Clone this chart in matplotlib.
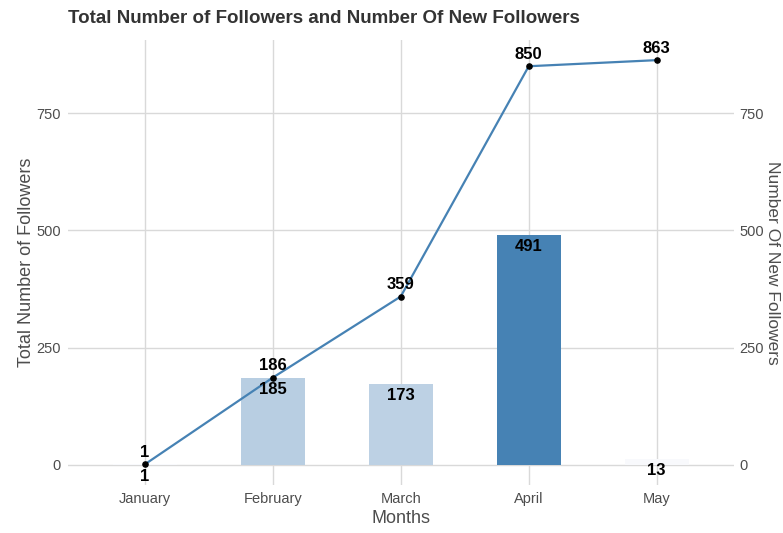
import matplotlib.pyplot as plt
import matplotlib.colors as mcolors
import numpy as np

plt.rcParams['font.family'] = ['Liberation Sans', 'DejaVu Sans']

# --- data ---
months = ["January", "February", "March", "April", "May"]
total_followers = [1, 186, 359, 850, 863]
new_followers = [1, 185, 173, 491, 13]

x = np.arange(len(months))

# fill gradient for bars (low -> high)
cmap = mcolors.LinearSegmentedColormap.from_list("blues", ["#F8F9FC", "#4682B4"])
norm = mcolors.Normalize(vmin=13, vmax=max(new_followers))
bar_colors = [cmap(norm(v)) for v in new_followers]

fig = plt.figure(figsize=(7.83, 5.33), dpi=100)
ax = fig.add_axes([0.0868, 0.09, 0.85, 0.835])

grid_col = "#D9D9D9"
ax.bar(x, new_followers, width=0.5, color=bar_colors, zorder=2)
ax.plot(x, total_followers, color="#4682B4", lw=1.6, zorder=3)
ax.scatter(x, total_followers, color="black", s=14, zorder=4)

# labels
for xi, v in zip(x, new_followers):
    ax.annotate(str(v), (xi, v), xytext=(0, -3), textcoords="offset points",
                ha="center", va="top", fontsize=12, fontweight="bold", color="black", zorder=5)
for xi, v in zip(x, total_followers):
    ax.annotate(str(v), (xi, v), xytext=(0, 3), textcoords="offset points",
                ha="center", va="bottom", fontsize=12, fontweight="bold", color="black", zorder=5)

ax.set_xlim(-0.6, 4.6)
ax.set_ylim(-43, 906)
ax.set_xticks(x)
ax.set_xticklabels(months)
ax.set_yticks([0, 250, 500, 750])
ax.grid(True, color=grid_col, lw=1, zorder=0)
ax.set_axisbelow(True)
for s in ax.spines.values():
    s.set_visible(False)
ax.tick_params(length=0, labelsize=10.5, labelcolor="#4D4D4D", pad=5)
ax.set_xlabel("Months", fontsize=13, color="#4D4D4D", labelpad=3)
ax.set_ylabel("Total Number of Followers", fontsize=13, color="#4D4D4D", labelpad=1)

# secondary axis (same scale)
ax2 = ax.twinx()
ax2.set_ylim(ax.get_ylim())
ax2.set_yticks([0, 250, 500, 750])
for s in ax2.spines.values():
    s.set_visible(False)
ax2.tick_params(length=0, labelsize=10.5, labelcolor="#4D4D4D", pad=4)
ax2.set_ylabel("Number Of New Followers", fontsize=12.5, color="#4D4D4D", rotation=270, labelpad=12)

ax.set_title("Total Number of Followers and Number Of New Followers", loc="left",
             fontsize=13.5, fontweight="bold", color="#333333", pad=12)

plt.savefig("out.png", dpi=100)
